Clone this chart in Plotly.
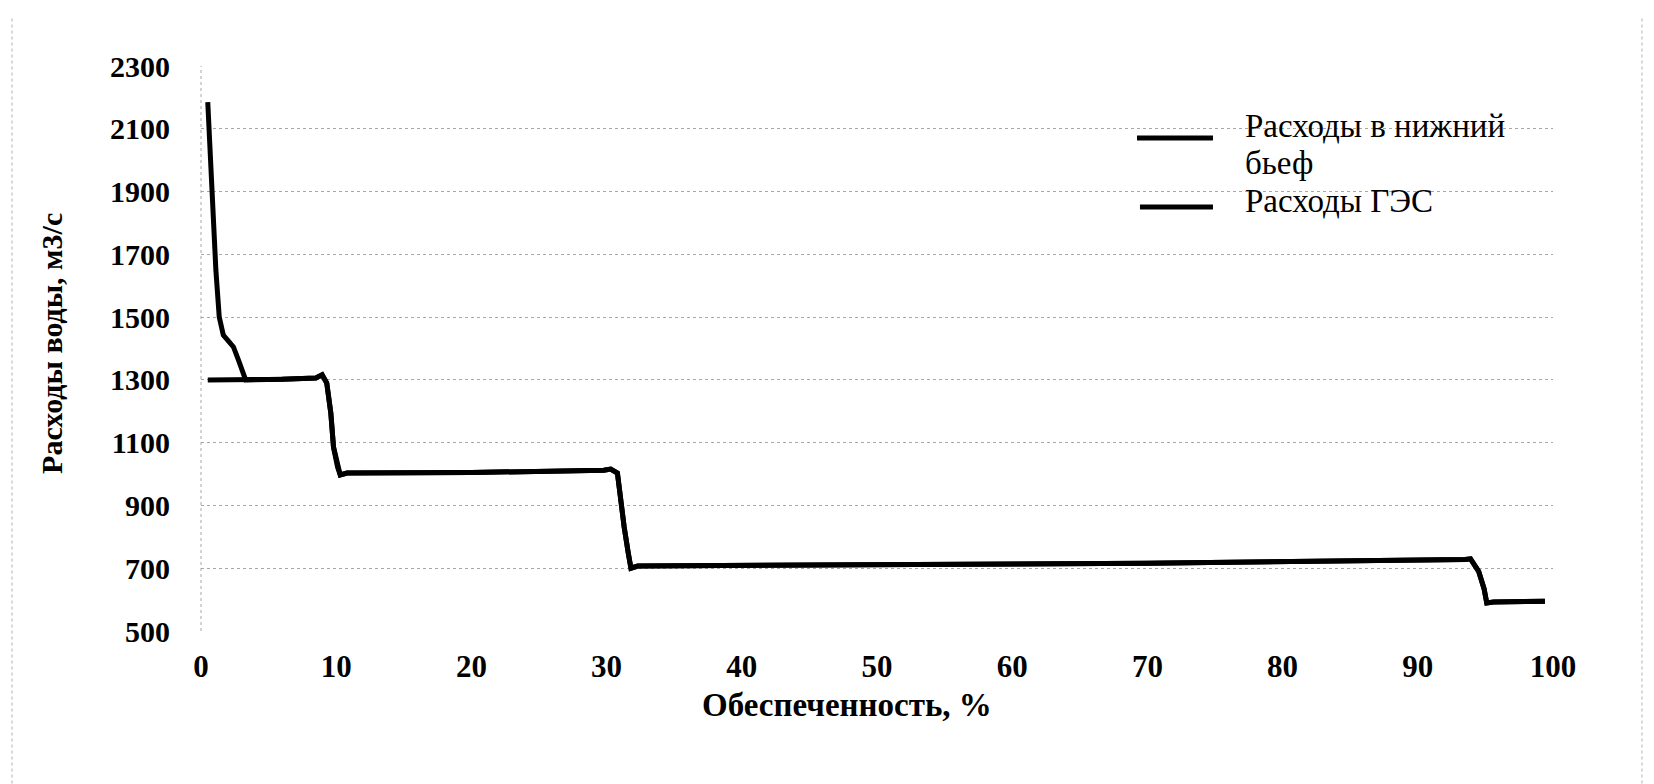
import plotly.graph_objects as go

# Data
x_tail = [0.5, 0.8, 1.1, 1.35, 1.65, 2.0, 2.4, 2.8, 3.3]
y_tail = [2185, 1900, 1650, 1500, 1443, 1425, 1405, 1360, 1305]

x_hpp = [0.5, 3.3, 6.0, 8.5, 8.96, 9.3, 9.6, 9.8, 10.1, 10.3, 10.8, 20.0, 29.8,
         30.3, 30.8, 31.0, 31.3, 31.6, 31.8, 32.3, 50.0, 70.0, 93.5,
         93.9, 94.5, 94.9, 95.1, 95.6, 99.4]
y_hpp = [1300, 1300, 1302, 1306, 1316, 1290, 1195, 1086, 1022, 997, 1003, 1005, 1012,
         1016, 1003, 927, 831, 749, 700, 707, 710, 716, 728,
         730, 690, 635, 589, 592, 595]

x_ticks = [0, 10, 20, 30, 40, 50, 60, 70, 80, 90, 100]
y_ticks = [500, 700, 900, 1100, 1300, 1500, 1700, 1900, 2100, 2300]

names = ["Расходы в нижний бьеф", "Расходы ГЭС"]
x_title = "Обеспеченность, %"
y_title = "Расходы воды, м3/с"

# downstream flow = HPP flow + tail part at low probabilities
x_down = x_tail + x_hpp[1:]
y_down = y_tail + y_hpp[1:]

FONT = "Liberation Serif"
LW = 5

fig = go.Figure()
fig.add_trace(go.Scatter(x=x_down, y=y_down, mode="lines", name=names[0],
                         line=dict(color="black", width=LW)))
fig.add_trace(go.Scatter(x=x_hpp, y=y_hpp, mode="lines", name=names[1],
                         line=dict(color="black", width=LW)))

fig.update_layout(
    width=1654, height=784,
    paper_bgcolor="white", plot_bgcolor="white",
    margin=dict(l=193, r=109, t=58, b=161, autoexpand=False),
    font=dict(family=FONT, color="black"),
    showlegend=False,
)
fig.update_xaxes(range=[0, 100], tickvals=x_ticks, ticktext=[str(v) for v in x_ticks],
                 showgrid=False, zeroline=False, showline=False, automargin=False,
                 ticks="", ticklabelstandoff=14,
                 tickfont=dict(family=FONT, size=31, color="black", weight="bold"))
fig.update_yaxes(range=[500, 2300], tickvals=y_ticks, ticktext=[str(v) for v in y_ticks],
                 showgrid=True, gridcolor="#a8a8a8", gridwidth=1, griddash="dot",
                 zeroline=False, showline=False, automargin=False,
                 ticks="", ticklabelstandoff=30,
                 tickfont=dict(family=FONT, size=30, color="black", weight="bold"))

# axis titles
fig.add_annotation(xref="paper", yref="paper", x=0.4778, y=-0.131, showarrow=False,
                   text="<b>" + x_title + "</b>", xanchor="center", yanchor="middle",
                   font=dict(family=FONT, size=33, color="black"))
fig.add_annotation(xref="paper", yref="paper", x=-0.111, y=0.5097, showarrow=False,
                   text="<b>" + y_title + "</b>", textangle=-90,
                   xanchor="center", yanchor="middle",
                   font=dict(family=FONT, size=30, color="black"))

# legend drawn by hand (long line samples as in the reference)
LEG_FONT = dict(family=FONT, size=33, color="black")
fig.add_shape(type="line", xref="paper", yref="paper", x0=0.6923, x1=0.7485, y0=0.8726, y1=0.8726,
              line=dict(color="black", width=LW))
fig.add_shape(type="line", xref="paper", yref="paper", x0=0.6945, x1=0.7485, y0=0.7504, y1=0.7504,
              line=dict(color="black", width=LW))
fig.add_annotation(xref="paper", yref="paper", x=0.7707, y=0.8938, showarrow=False,
                   text="Расходы в нижний", xanchor="left", yanchor="middle", font=LEG_FONT)
fig.add_annotation(xref="paper", yref="paper", x=0.7707, y=0.8283, showarrow=False,
                   text="бьеф", xanchor="left", yanchor="middle", font=LEG_FONT)
fig.add_annotation(xref="paper", yref="paper", x=0.7707, y=0.7611, showarrow=False,
                   text=names[1], xanchor="left", yanchor="middle", font=LEG_FONT)

# dotted axis line at x = 0 and faint frame edges
fig.add_shape(type="line", xref="x domain", yref="y domain", x0=0, x1=0, y0=0, y1=1,
              line=dict(color="#a8a8a8", width=1, dash="dot"), layer="below")
fig.add_shape(type="line", xref="paper", yref="paper", x0=-0.1398, x1=-0.1398, y0=-0.27, y1=1.087,
              line=dict(color="#b0b0b0", width=1, dash="dot"), layer="below")
fig.add_shape(type="line", xref="paper", yref="paper", x0=1.0658, x1=1.0658, y0=-0.27, y1=1.087,
              line=dict(color="#b0b0b0", width=1, dash="dot"), layer="below")

fig.write_html("out.html")
